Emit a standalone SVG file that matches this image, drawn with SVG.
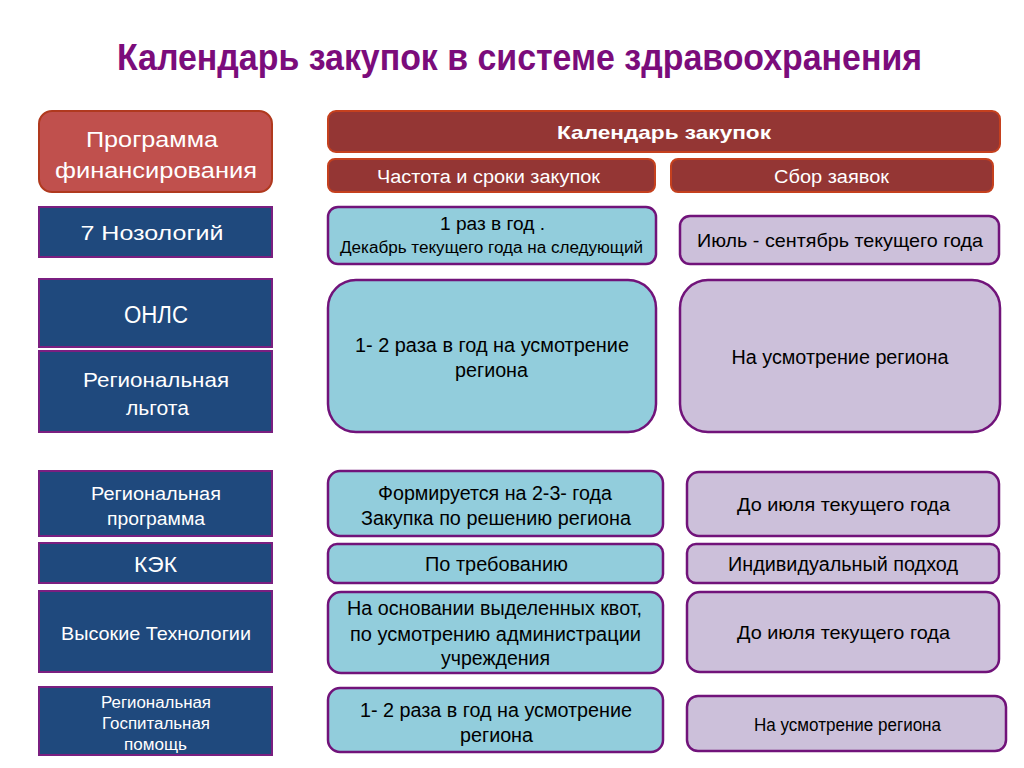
<svg xmlns="http://www.w3.org/2000/svg" width="1024" height="768" viewBox="0 0 1024 768">
<style>
text{font-family:"Liberation Sans",Arial,sans-serif;text-anchor:middle}
.title{font-size:37px;font-weight:bold;fill:#7B0C7B}
.red{fill:#C0504D;stroke:#B0391E;stroke-width:2}
.dred{fill:#943634;stroke:#C5401E;stroke-width:2}
.blue{fill:#1F497D;stroke:#7A1F80;stroke-width:2}
.cyan{fill:#92CDDC;stroke:#71137A;stroke-width:2.5}
.lil{fill:#CCC0DA;stroke:#71137A;stroke-width:2.5}
.w{fill:#FFFFFF}
.k{fill:#000000}
</style>
<rect width="1024" height="768" fill="#FFFFFF"/>
<text class="title" x="519.5" y="70" textLength="805" lengthAdjust="spacingAndGlyphs">Календарь закупок в системе здравоохранения</text>

<g id="header-program">
<rect class="red" x="39" y="111" width="233" height="81" rx="13"/>
<text class="w" x="152" y="147" font-size="22" textLength="132" lengthAdjust="spacingAndGlyphs">Программа</text>
<text class="w" x="156" y="178" font-size="22" textLength="202" lengthAdjust="spacingAndGlyphs">финансирования</text>
</g>
<g id="header-calendar">
<rect class="dred" x="328" y="111" width="672" height="41" rx="8"/>
<text class="w" x="664" y="139" font-size="19" font-weight="bold" textLength="214" lengthAdjust="spacingAndGlyphs">Календарь закупок</text>
</g>
<g id="header-freq">
<rect class="dred" x="328" y="159" width="327" height="33" rx="7"/>
<text class="w" x="488.5" y="183" font-size="18" textLength="223" lengthAdjust="spacingAndGlyphs">Частота и сроки закупок</text>
</g>
<g id="header-collect">
<rect class="dred" x="671" y="159" width="322" height="33" rx="7"/>
<text class="w" x="831.5" y="183" font-size="18" textLength="115" lengthAdjust="spacingAndGlyphs">Сбор заявок</text>
</g>

<g id="l1"><rect class="blue" x="39" y="207" width="233" height="50"/>
<text class="w" x="152" y="240" font-size="21" textLength="143" lengthAdjust="spacingAndGlyphs">7  Нозологий</text></g>
<g id="l2"><rect class="blue" x="39" y="279" width="233" height="68"/>
<text class="w" x="156" y="323" font-size="23" textLength="64" lengthAdjust="spacingAndGlyphs">ОНЛС</text></g>
<g id="l3"><rect class="blue" x="39" y="351" width="233" height="81"/>
<text class="w" x="156" y="387" font-size="21" textLength="146" lengthAdjust="spacingAndGlyphs">Региональная</text>
<text class="w" x="157.5" y="415" font-size="21" textLength="63" lengthAdjust="spacingAndGlyphs">льгота</text></g>
<g id="l4"><rect class="blue" x="39" y="471" width="233" height="65"/>
<text class="w" x="156" y="500" font-size="18" textLength="130" lengthAdjust="spacingAndGlyphs">Региональная</text>
<text class="w" x="156" y="525" font-size="18" textLength="98" lengthAdjust="spacingAndGlyphs">программа</text></g>
<g id="l5"><rect class="blue" x="39" y="543" width="233" height="40"/>
<text class="w" x="155.5" y="572" font-size="22" textLength="43" lengthAdjust="spacingAndGlyphs">КЭК</text></g>
<g id="l6"><rect class="blue" x="39" y="591" width="233" height="81"/>
<text class="w" x="156" y="640" font-size="19" textLength="190" lengthAdjust="spacingAndGlyphs">Высокие Технологии</text></g>
<g id="l7"><rect class="blue" x="39" y="687" width="233" height="68"/>
<text class="w" x="156" y="708" font-size="16" textLength="110" lengthAdjust="spacingAndGlyphs">Региональная</text>
<text class="w" x="156" y="729" font-size="16" textLength="108" lengthAdjust="spacingAndGlyphs">Госпитальная</text>
<text class="w" x="155.5" y="750" font-size="16" textLength="63" lengthAdjust="spacingAndGlyphs">помощь</text></g>

<g id="m1"><rect class="cyan" x="328" y="207" width="328" height="57" rx="10"/>
<text class="k" x="492.5" y="230" font-size="18" textLength="105" lengthAdjust="spacingAndGlyphs">1 раз в год .</text>
<text class="k" x="491.5" y="253" font-size="16" textLength="303" lengthAdjust="spacingAndGlyphs">Декабрь текущего года на следующий</text></g>
<g id="m2"><rect class="cyan" x="328" y="280" width="328" height="152" rx="28"/>
<text class="k" x="492" y="352" font-size="20" textLength="274" lengthAdjust="spacingAndGlyphs">1- 2 раза в год на усмотрение</text>
<text class="k" x="491.5" y="377" font-size="20" textLength="73" lengthAdjust="spacingAndGlyphs">региона</text></g>
<g id="m3"><rect class="cyan" x="328" y="471" width="335" height="65" rx="12"/>
<text class="k" x="495" y="500" font-size="20" textLength="234" lengthAdjust="spacingAndGlyphs">Формируется на 2-3- года</text>
<text class="k" x="496" y="525" font-size="20" textLength="270" lengthAdjust="spacingAndGlyphs">Закупка по решению региона</text></g>
<g id="m4"><rect class="cyan" x="328" y="544" width="335" height="39" rx="9"/>
<text class="k" x="496.5" y="571" font-size="20" textLength="143" lengthAdjust="spacingAndGlyphs">По требованию</text></g>
<g id="m5"><rect class="cyan" x="328" y="592" width="335" height="81" rx="13"/>
<text class="k" x="494.5" y="615" font-size="20" textLength="295" lengthAdjust="spacingAndGlyphs">На основании выделенных квот,</text>
<text class="k" x="495.5" y="641" font-size="20" textLength="291" lengthAdjust="spacingAndGlyphs">по усмотрению администрации</text>
<text class="k" x="495.5" y="665" font-size="20" textLength="109" lengthAdjust="spacingAndGlyphs">учреждения</text></g>
<g id="m6"><rect class="cyan" x="328" y="688" width="335" height="64" rx="12"/>
<text class="k" x="496" y="717" font-size="20" textLength="272" lengthAdjust="spacingAndGlyphs">1- 2 раза в год на усмотрение</text>
<text class="k" x="496.5" y="742" font-size="20" textLength="73" lengthAdjust="spacingAndGlyphs">региона</text></g>

<g id="r1"><rect class="lil" x="680" y="216" width="319" height="48" rx="10"/>
<text class="k" x="840" y="247" font-size="19" textLength="286" lengthAdjust="spacingAndGlyphs">Июль - сентябрь текущего года</text></g>
<g id="r2"><rect class="lil" x="680" y="280" width="320" height="152" rx="28"/>
<text class="k" x="840" y="364" font-size="19.5" textLength="217" lengthAdjust="spacingAndGlyphs">На усмотрение региона</text></g>
<g id="r3"><rect class="lil" x="687" y="472" width="312" height="64" rx="12"/>
<text class="k" x="843.5" y="511" font-size="19" textLength="213" lengthAdjust="spacingAndGlyphs">До июля текущего года</text></g>
<g id="r4"><rect class="lil" x="687" y="544" width="312" height="39" rx="9"/>
<text class="k" x="843" y="571" font-size="20" textLength="230" lengthAdjust="spacingAndGlyphs">Индивидуальный подход</text></g>
<g id="r5"><rect class="lil" x="687" y="592" width="312" height="80" rx="13"/>
<text class="k" x="843.5" y="639" font-size="19" textLength="213" lengthAdjust="spacingAndGlyphs">До июля текущего года</text></g>
<g id="r6"><rect class="lil" x="687" y="696" width="319" height="55" rx="11"/>
<text class="k" x="847.5" y="731" font-size="17.5" textLength="187" lengthAdjust="spacingAndGlyphs">На усмотрение региона</text></g>

<g id="connectors"></g>
</svg>
